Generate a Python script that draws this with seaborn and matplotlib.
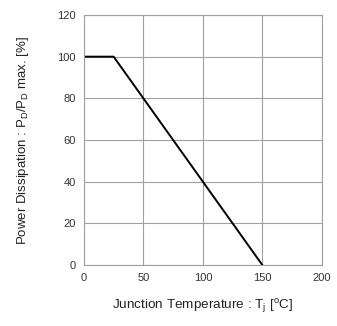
import matplotlib
matplotlib.use("Agg")
import matplotlib.pyplot as plt
import seaborn as sns
import pandas as pd

# Derating curve: junction temperature vs. allowed power dissipation
temp_c = [0, 25, 150]
power_pct = [100, 100, 0]

x_ticks = [0, 50, 100, 150, 200]
y_ticks = [0, 20, 40, 60, 80, 100, 120]

sns.set_theme(style="white")
plt.rcParams["font.family"] = ["Liberation Sans", "DejaVu Sans"]
plt.rcParams["mathtext.fontset"] = "custom"
plt.rcParams["mathtext.rm"] = "Liberation Sans"
plt.rcParams["mathtext.it"] = "Liberation Sans"

df = pd.DataFrame({"Tj": temp_c, "P": power_pct})

fig = plt.figure(figsize=(3.37, 3.26), dpi=100)
ax = fig.add_axes([0.249, 0.187, 0.706, 0.767])

sns.lineplot(data=df, x="Tj", y="P", ax=ax, color="black", linewidth=1.4)

ax.set_xlim(0, 200)
ax.set_ylim(0, 120)
ax.set_xticks(x_ticks)
ax.set_yticks(y_ticks)
ax.grid(True, color="#a0a0a0", linewidth=0.8)
for s in ax.spines.values():
    s.set_color("#a0a0a0")
    s.set_linewidth(0.8)
ax.tick_params(length=0, labelsize=8, colors="#333333", pad=6)

ax.set_xlabel(r"Junction Temperature : T$_\mathregular{j}$ [$^\mathregular{o}$C]",
              fontsize=9.7, color="#222222", labelpad=10)
ax.set_ylabel(r"Power Dissipation : P$_\mathregular{D}$/P$_\mathregular{D}$ max. [%]",
              fontsize=9.5, color="#222222", labelpad=19)

fig.savefig("out.png", dpi=100)
